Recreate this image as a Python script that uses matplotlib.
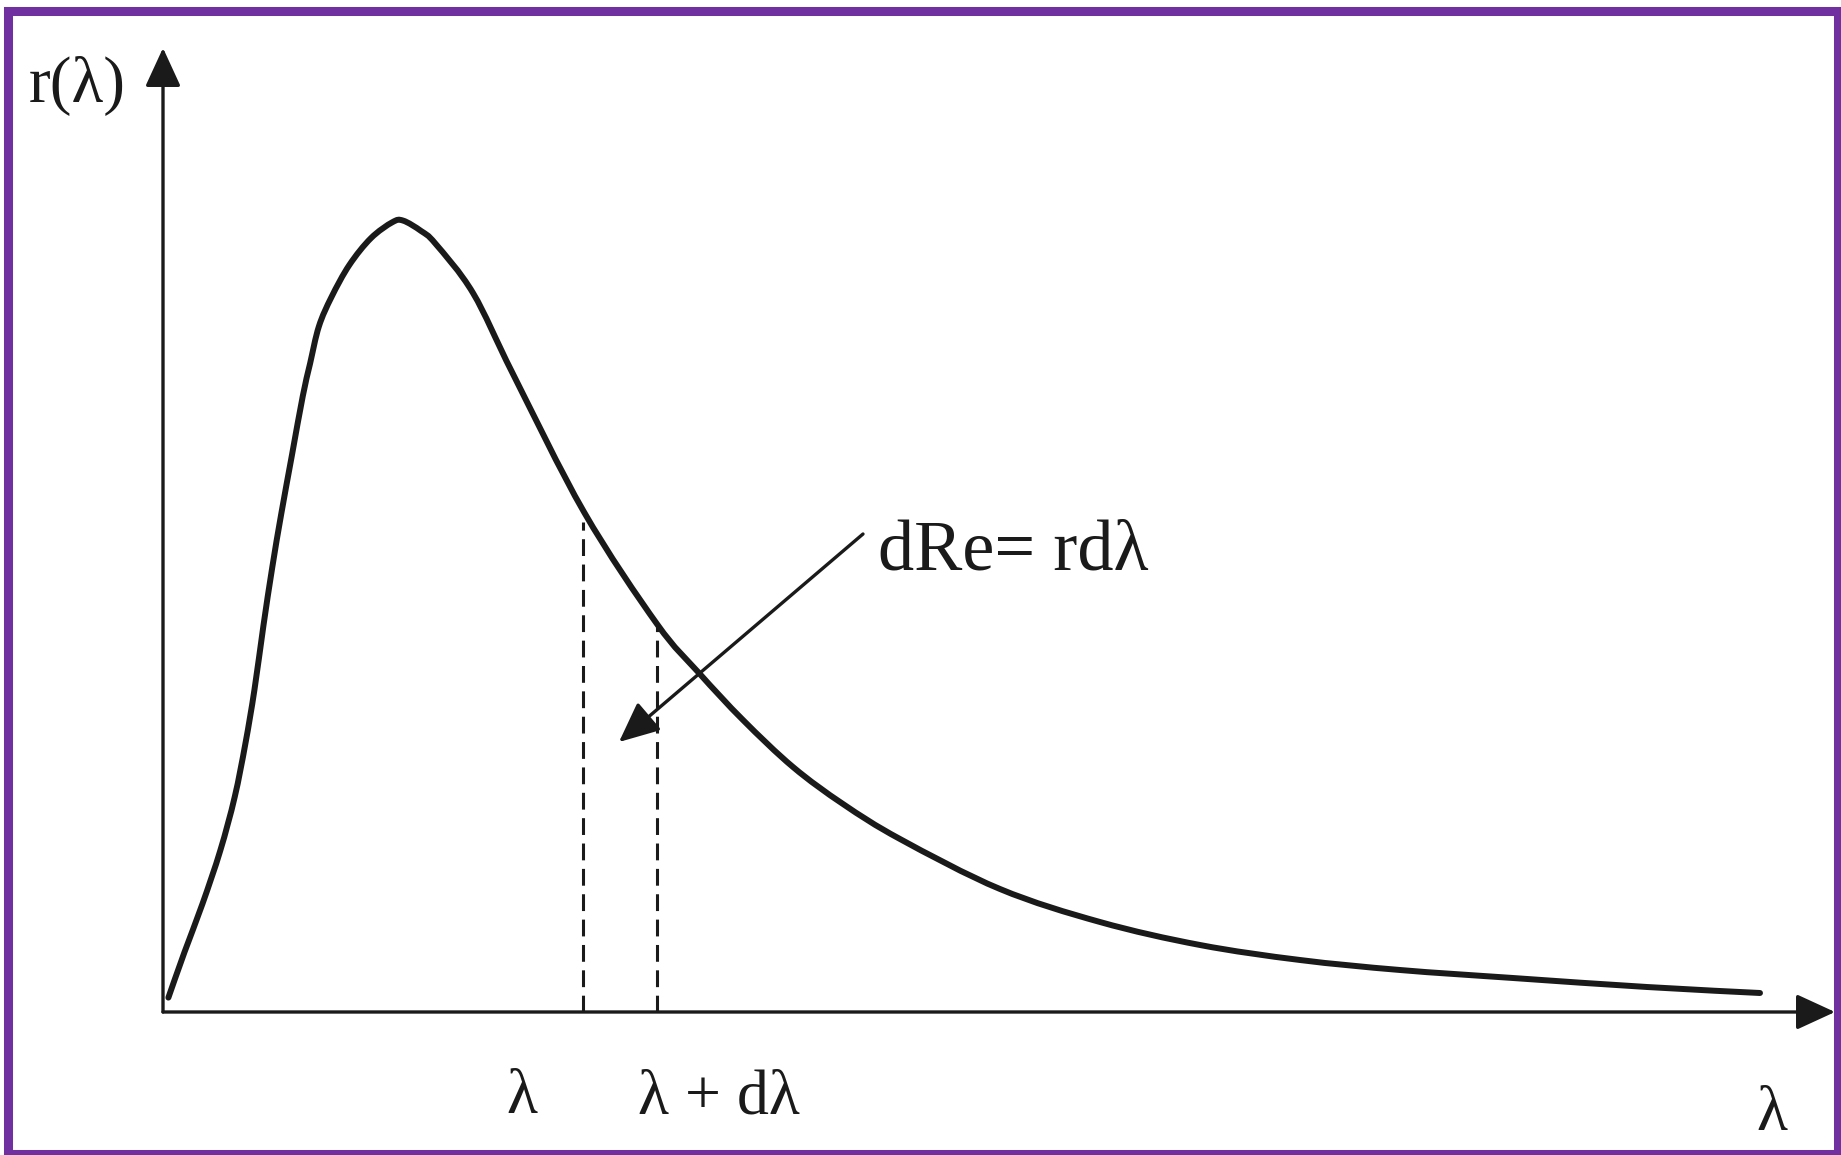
import matplotlib.pyplot as plt
from matplotlib.patches import FancyArrowPatch, Rectangle, PathPatch
from matplotlib.path import Path

# spectral emittance curve r(λ), arbitrary units
lam = [0.54, 2.15, 3.94, 5.73, 7.17, 8.24, 9.14, 10.04, 10.93, 11.83, 12.90,
       13.98, 14.70, 15.59, 16.85, 18.64, 20.79, 22.94, 24.01, 25.81, 27.24,
       31.0, 35.0, 42.1, 49.4, 53.6, 58.0, 63.0, 68.0, 73.7, 83.7,
       93.7, 103.7, 113.7, 123.7, 135.0, 148.4, 159.7]
r = [1.44, 5.99, 10.80, 16.15, 21.50, 26.84, 32.19, 38.61, 44.49, 49.84, 55.72,
     61.60, 64.81, 68.56, 71.50, 74.71, 77.38, 78.98, 79.14, 78.10, 76.84,
     71.9, 63.8, 50.0, 38.8, 33.9, 29.2, 24.5, 20.8, 17.3, 12.3,
     9.0, 6.7, 5.2, 4.2, 3.4, 2.5, 1.9]

# the strip between λ and λ + dλ
strip_lam = [42.0, 49.4]
strip_r = [49.0, 38.5]

x_end = 167.2
y_end = 96.4

ink = '#1a1a1a'
serif = ['Liberation Serif', 'DejaVu Serif']


def smooth_path(xs, ys):
    # Catmull-Rom through the points, written as cubic Bezier segments
    pts = list(zip(xs, ys))
    verts = [pts[0]]
    codes = [Path.MOVETO]
    for i in range(len(pts) - 1):
        p0 = pts[max(i - 1, 0)]
        p1 = pts[i]
        p2 = pts[i + 1]
        p3 = pts[min(i + 2, len(pts) - 1)]
        c1 = (p1[0] + (p2[0] - p0[0]) / 6, p1[1] + (p2[1] - p0[1]) / 6)
        c2 = (p2[0] - (p3[0] - p1[0]) / 6, p2[1] - (p3[1] - p1[1]) / 6)
        verts += [c1, c2, p2]
        codes += [Path.CURVE4] * 3
    return Path(verts, codes)


fig = plt.figure(figsize=(18.41, 11.55), dpi=100)
ax = fig.add_axes([0, 0, 1, 1])
ax.set_xlim(-16.3, 167.8)
ax.set_ylim(-14.3, 101.2)
ax.axis('off')

# axes with arrow heads
for end in [(x_end, 0), (0, y_end)]:
    ax.add_patch(FancyArrowPatch((0, 0), end, arrowstyle='-|>,head_length=0.5,head_width=0.23',
                                 mutation_scale=48, color=ink, lw=2.4, shrinkA=0, shrinkB=0))

ax.add_patch(PathPatch(smooth_path(lam, r), fill=False, edgecolor=ink, lw=4.3,
                       joinstyle='round', capstyle='round'))

for xv, yv in zip(strip_lam, strip_r):
    ax.plot([xv, xv], [0, yv], color=ink, lw=2.2, dashes=(5.5, 2.8))

ax.add_patch(FancyArrowPatch((70.0, 47.8), (45.6, 27.0),
                             arrowstyle='-|>,head_length=0.55,head_width=0.25',
                             mutation_scale=45, color=ink, lw=2.4, shrinkA=0, shrinkB=0))

ax.text(71.5, 44.3, 'dRe= rdλ', fontsize=52, family=serif, color=ink, ha='left', va='baseline')
ax.text(-8.55, 91.0, 'r(λ)', fontsize=47, family=serif, color=ink, ha='center', va='baseline')
ax.text(35.9, -10.1, 'λ', fontsize=46, family=serif, color=ink, ha='center', va='baseline')
ax.text(55.6, -10.1, 'λ + dλ', fontsize=46, family=serif, color=ink, ha='center', va='baseline')
ax.text(160.9, -11.8, 'λ', fontsize=46, family=serif, color=ink, ha='center', va='baseline')

# purple frame
fig.patches.append(Rectangle((7.5 / 1841, 1.5 / 1155), 1830 / 1841, 1142.5 / 1155,
                             transform=fig.transFigure, fill=False,
                             edgecolor='#7030a0', lw=6.5))

fig.savefig('out.png', dpi=100)
